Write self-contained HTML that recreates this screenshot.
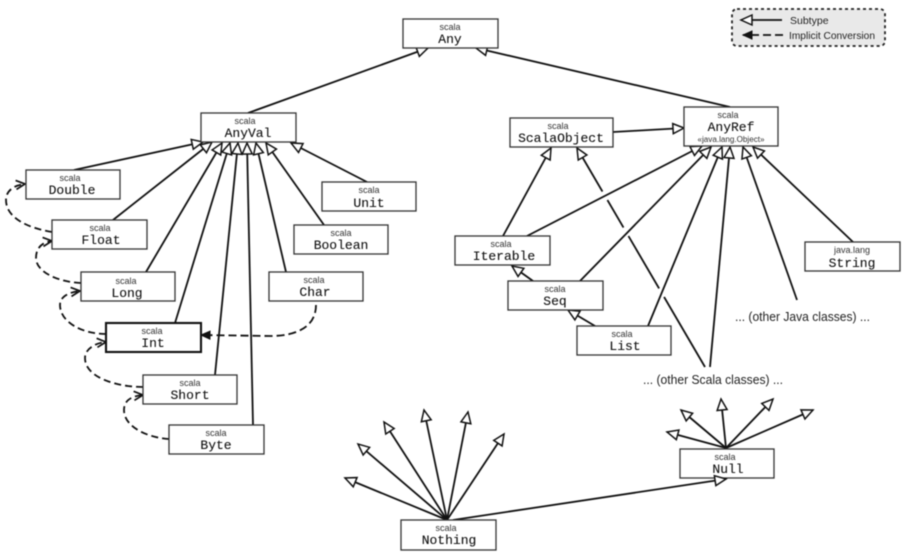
<!DOCTYPE html>
<html><head><meta charset="utf-8"><style>
html,body{margin:0;padding:0;background:#fff;width:903px;height:559px;overflow:hidden}
svg{display:block;filter:blur(.45px)}
.b{fill:#fff;stroke:#333;stroke-width:1.3}
.l{stroke:#111;stroke-width:1.8;fill:none;marker-end:url(#o)}
.d{stroke:#111;stroke-width:1.8;fill:none;stroke-dasharray:7 4;marker-end:url(#v)}
.s{font:9px "Liberation Sans",sans-serif;fill:#333;text-anchor:middle}
.n{font:13px "Liberation Mono",monospace;fill:#111;text-anchor:middle;stroke:#111;stroke-width:.1}
.t{font:12.5px "Liberation Sans",sans-serif;fill:#222}
.g{font:10.5px "Liberation Sans",sans-serif;fill:#222}
</style></head><body>
<svg width="903" height="559" viewBox="0 0 903 559" xmlns="http://www.w3.org/2000/svg">
<defs>
<marker id="o" markerUnits="userSpaceOnUse" markerWidth="16" markerHeight="14" refX="13" refY="7" orient="auto"><path d="M2,2 L13,7 L2,12 Z" fill="#fff" stroke="#111" stroke-width="1.5"/></marker>
<marker id="v" markerUnits="userSpaceOnUse" markerWidth="14" markerHeight="12" refX="11" refY="6" orient="auto"><path d="M2,1.5 L11,6 L2,10.5" fill="none" stroke="#111" stroke-width="1.7"/></marker>
<marker id="f" markerUnits="userSpaceOnUse" markerWidth="14" markerHeight="12" refX="11" refY="6" orient="auto"><path d="M2,2 L11,6 L2,10 Z" fill="#111" stroke="#111"/></marker>
</defs>

<!-- Legend -->
<rect x="732" y="9" width="153" height="37" rx="5" fill="#e9e9e9" stroke="#222" stroke-width="1.8" stroke-dasharray="3 3"/>
<line class="l" x1="782" y1="20" x2="741" y2="20"/>
<line x1="783" y1="35" x2="743" y2="35" stroke="#111" stroke-width="1.8" stroke-dasharray="8 4" marker-end="url(#f)"/>
<text class="g" x="790" y="24">Subtype</text>
<text class="g" x="789" y="39" textLength="86" lengthAdjust="spacingAndGlyphs">Implicit Conversion</text>

<!-- Top links -->
<line class="l" x1="248" y1="113" x2="428" y2="48"/>
<line class="l" x1="730" y1="107" x2="476" y2="48"/>

<!-- AnyVal links -->
<line class="l" x1="74" y1="170" x2="203" y2="142"/>
<line class="l" x1="113" y1="220" x2="212" y2="142"/>
<line class="l" x1="146" y1="272" x2="222" y2="143"/>
<line class="l" x1="175" y1="323" x2="230" y2="143"/>
<line class="l" x1="215" y1="375" x2="238" y2="143"/>
<line class="l" x1="253" y1="425" x2="247" y2="143"/>
<line class="l" x1="286" y1="272" x2="256" y2="143"/>
<line class="l" x1="324" y1="225" x2="266" y2="143"/>
<line class="l" x1="367" y1="182" x2="291" y2="143"/>

<!-- Implicit conversions -->
<path class="d" d="M52,232 C28,228 6,218 6,200 C6,190 15,185 25,184"/>
<path class="d" d="M81,283 C58,282 36,272 36,258 C36,248 42,242 52,241"/>
<path class="d" d="M106,334 C82,334 60,322 60,305 C60,296 70,292 80,291"/>
<path class="d" d="M143,387 C118,387 85,378 85,358 C85,349 95,343 106,342"/>
<path class="d" d="M169,439 C150,438 124,428 124,410 C124,400 132,396 143,395"/>
<path d="M316,305 C316,326 298,336 270,336 L201,335" fill="none" stroke="#111" stroke-width="1.8" stroke-dasharray="8 4" marker-end="url(#f)"/>

<!-- AnyRef side links -->
<line class="l" x1="613" y1="132" x2="684" y2="128"/>
<line class="l" x1="503" y1="236" x2="551" y2="148"/>
<line class="l" x1="705" y1="367" x2="577" y2="148"/>
<!-- bridge gaps sit under the crossing lines -->
<line x1="602.5" y1="191.5" x2="607.5" y2="200" stroke="#fff" stroke-width="4"/>
<line x1="623.5" y1="227.5" x2="628.5" y2="236" stroke="#fff" stroke-width="4"/>
<line x1="659" y1="288.5" x2="664" y2="297" stroke="#fff" stroke-width="4"/>
<line class="l" x1="527" y1="236" x2="702" y2="146"/>
<line class="l" x1="580" y1="281" x2="711" y2="147"/>
<line class="l" x1="648" y1="326" x2="722" y2="147"/>
<line class="l" x1="710" y1="367" x2="730" y2="147"/>
<line class="l" x1="797" y1="300" x2="743" y2="147"/>
<line class="l" x1="853" y1="242" x2="753" y2="147"/>
<line class="l" x1="533" y1="281" x2="512" y2="266"/>
<line class="l" x1="595" y1="326" x2="568" y2="310"/>

<!-- Nothing links -->
<line class="l" x1="447" y1="520" x2="345" y2="478"/>
<line class="l" x1="447" y1="520" x2="358" y2="444"/>
<line class="l" x1="447" y1="520" x2="384" y2="422"/>
<line class="l" x1="447" y1="520" x2="424" y2="410"/>
<line class="l" x1="447" y1="520" x2="468" y2="412"/>
<line class="l" x1="447" y1="520" x2="504" y2="434"/>

<!-- Null links -->
<line class="l" x1="726" y1="448" x2="667" y2="432"/>
<line class="l" x1="726" y1="448" x2="681" y2="410"/>
<line class="l" x1="726" y1="448" x2="721" y2="399"/>
<line class="l" x1="726" y1="448" x2="773" y2="399"/>
<line class="l" x1="726" y1="448" x2="813" y2="410"/>

<!-- Boxes -->
<rect class="b" x="403" y="19" width="95" height="29"/><text class="s" x="450" y="30">scala</text><text class="n" x="450" y="43">Any</text>
<rect class="b" x="201" y="113" width="95" height="29"/><text class="s" x="245" y="124">scala</text><text class="n" x="248" y="137">AnyVal</text>
<rect class="b" x="26" y="170" width="94" height="29"/><text class="s" x="70" y="181">scala</text><text class="n" x="72" y="194">Double</text>
<rect class="b" x="52" y="220" width="95" height="29"/><text class="s" x="100" y="231">scala</text><text class="n" x="101" y="244">Float</text>
<rect class="b" x="81" y="272" width="94" height="29"/><text class="s" x="126" y="284">scala</text><text class="n" x="127" y="297">Long</text>
<rect class="b" x="269" y="272" width="94" height="29"/><text class="s" x="314" y="283">scala</text><text class="n" x="315" y="296">Char</text>
<rect class="b" x="294" y="225" width="94" height="29"/><text class="s" x="341" y="236">scala</text><text class="n" x="341" y="249">Boolean</text>
<rect class="b" x="322" y="182" width="94" height="29"/><text class="s" x="369" y="193">scala</text><text class="n" x="369" y="207">Unit</text>
<rect x="106" y="323" width="95" height="29" fill="#fff" stroke="#111" stroke-width="2.1"/><text class="s" x="152" y="334">scala</text><text class="n" x="153" y="347">Int</text>
<rect class="b" x="143" y="375" width="94" height="29"/><text class="s" x="190" y="386">scala</text><text class="n" x="190" y="399">Short</text>
<rect class="b" x="169" y="425" width="95" height="29"/><text class="s" x="216" y="436">scala</text><text class="n" x="216" y="449">Byte</text>

<rect class="b" x="510" y="118" width="103" height="29"/><text class="s" x="558" y="129">scala</text><text class="n" x="561" y="142">ScalaObject</text>
<rect class="b" x="684" y="107" width="94" height="39"/><text class="s" x="728" y="118">scala</text><text class="n" x="731" y="131">AnyRef</text><text class="s" x="731" y="142" style="font-size:8px" textLength="67" lengthAdjust="spacingAndGlyphs">«java.lang.Object»</text>
<rect class="b" x="455" y="236" width="95" height="29"/><text class="s" x="501" y="247">scala</text><text class="n" x="504" y="260">Iterable</text>
<rect class="b" x="508" y="281" width="95" height="29"/><text class="s" x="555" y="292">scala</text><text class="n" x="555" y="305">Seq</text>
<rect class="b" x="577" y="326" width="94" height="29"/><text class="s" x="622" y="337">scala</text><text class="n" x="625" y="350">List</text>
<rect class="b" x="805" y="242" width="95" height="29"/><text class="s" x="852" y="253">java.lang</text><text class="n" x="852" y="267">String</text>

<rect class="b" x="680" y="449" width="94" height="29"/><text class="s" x="725" y="460">scala</text>
<line class="l" x1="453" y1="520" x2="726" y2="479"/>
<text class="n" x="728" y="473">Null</text>
<rect class="b" x="401" y="520" width="95" height="30"/><text class="s" x="446" y="531">scala</text><text class="n" x="449" y="544">Nothing</text>

<text class="t" x="735" y="321" textLength="135" lengthAdjust="spacingAndGlyphs">... (other Java classes) ...</text>
<text class="t" x="643" y="384" textLength="140" lengthAdjust="spacingAndGlyphs">... (other Scala classes) ...</text>
</svg>
</body></html>
